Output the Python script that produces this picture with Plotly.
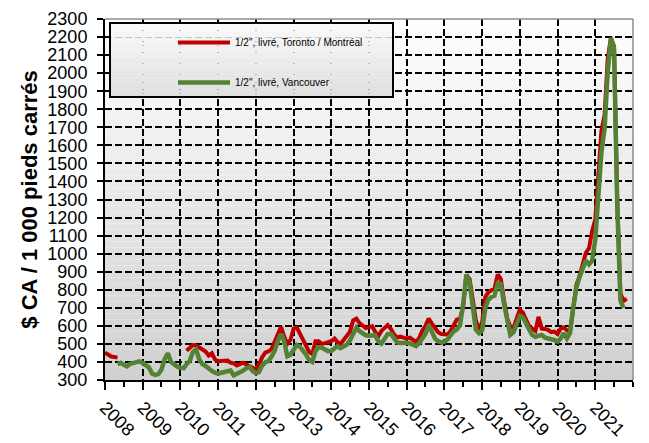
import plotly.graph_objects as go
import pandas as pd

# ---- data (monthly, $CA / 1 000 sq ft) ----
months = [d.strftime("%Y-%m-%d") for d in pd.date_range("2008-01-01", "2021-12-01", freq="MS")]

toronto_montreal = [
    452, 440, 430, 427, 424, None, None, None, None, None, None, None,            # 2008
    None, None, None, None, None, None, None, None, None, None, None, None,       # 2009
    None, None, 462, 478, 494, 492, 482, 468, 458, 436, 448, 414,                 # 2010
    403, 406, 408, 408, 396, 392, 380, 390, 396, 386, 378, 368,                   # 2011
    358, 386, 425, 452, 458, 472, 515, 545, 595, 540, 500, 522,                   # 2012
    585, 590, 560, 515, 485, 455, 445, 515, 515, 500, 504, 508,                   # 2013
    515, 530, 510, 500, 522, 540, 568, 630, 640, 615, 600, 588,                   # 2014
    592, 598, 568, 542, 572, 592, 604, 583, 552, 536, 540, 535,                   # 2015
    530, 534, 525, 511, 532, 575, 600, 640, 612, 585, 565, 555,                   # 2016
    552, 552, 572, 605, 635, 640, 705, 880, 860, 750, 630, 580,                   # 2017
    620, 760, 785, 798, 807, 885, 860, 740, 640, 595, 590, 640,                   # 2018
    690, 672, 635, 598, 585, 572, 650, 585, 583, 578, 565, 568,                   # 2019
    555, 585, 592, 575, 568, 720, 825, 875, 945, 1005, 1030, 1125,                # 2020
    1190, 1420, 1680, 1770, 2080, 2195, 2150, 1300, 780, 738, 750, None,          # 2021
]

vancouver = [
    None, None, None, None, 388, 395, 385, 376, 390, 393, 398, 403,               # 2008
    395, 385, 370, 336, 328, 333, 358, 415, 448, 400, 384, 374,                   # 2009
    368, 366, 388, 405, 455, 470, 415, 388, 378, 362, 350, 340,                   # 2010
    335, 340, 343, 348, 352, 326, 334, 340, 352, 365, 372, 350,                   # 2011
    338, 345, 380, 398, 405, 430, 462, 515, 555, 515, 432, 440,                   # 2012
    470, 494, 486, 465, 440, 410, 400, 460, 482, 478, 466, 460,                   # 2013
    462, 475, 487, 476, 485, 496, 520, 555, 590, 570, 556, 548,                   # 2014
    545, 544, 548, 515, 502, 528, 555, 555, 530, 508, 505, 507,                   # 2015
    507, 503, 497, 488, 505, 535, 555, 605, 565, 530, 515, 508,                   # 2016
    512, 525, 548, 570, 580, 605, 720, 885, 840, 720, 580, 560,                   # 2017
    575, 700, 745, 760, 767, 835, 830, 720, 625, 550, 565, 610,                   # 2018
    655, 645, 610, 580, 550, 538, 545, 550, 535, 528, 526, 522,                   # 2019
    512, 530, 560, 530, 560, 700, 810, 870, 920, 962, 940, 960,                   # 2020
    1080, 1330, 1560, 1695, 2000, 2195, 2140, 1280, 740, 700, None, None,         # 2021
]

year_labels = [str(y) for y in range(2008, 2022)]
year_ticks = [f"{y}-01-01" for y in range(2008, 2022)]

series_names = ["1/2\", livré, Toronto / Montréal", "1/2\", livré, Vancouver"]
series_colors = ["#c00000", "#548235"]

FONT = "Arial, Liberation Sans, sans-serif"

fig = go.Figure()
fig.add_trace(go.Scatter(x=months, y=toronto_montreal, mode="lines", name=series_names[0],
                         line=dict(color=series_colors[0], width=4), legendgroup="a",
                         connectgaps=False))
fig.add_trace(go.Scatter(x=months, y=vancouver, mode="lines", name=series_names[1],
                         line=dict(color=series_colors[1], width=4.5), legendgroup="b",
                         connectgaps=False))

# plot-area gradient background
shapes = []
N = 60
for i in range(N):
    t = (i + 0.5) / N
    c = int(round(208 + (255 - 208) * t))
    shapes.append(dict(type="rect", xref="paper", yref="paper", x0=0, x1=1,
                       y0=i / N, y1=(i + 1) / N, fillcolor=f"rgb({c},{c},{c})",
                       line=dict(width=0), layer="below"))

# legend box with gradient
W, H = 649, 443
ml, mr, mt, mb = 105, 16, 19, 63
pw, ph = W - ml - mr, H - mt - mb
def px(x):
    return (x - ml) / pw
def py(y):
    return 1 - (y - mt) / ph

lx0, lx1, ly0, ly1 = px(110), px(393), py(97), py(23)
M = 20
for i in range(M):
    t = (i + 0.5) / M
    c = int(round(222 + (250 - 222) * t))
    shapes.append(dict(type="rect", xref="paper", yref="paper", x0=lx0, x1=lx1,
                       y0=ly0 + (ly1 - ly0) * i / M, y1=ly0 + (ly1 - ly0) * (i + 1) / M,
                       fillcolor=f"rgb({c},{c},{c})", line=dict(width=0), layer="above"))
shapes.append(dict(type="rect", xref="paper", yref="paper", x0=lx0, x1=lx1, y0=ly0, y1=ly1,
                   line=dict(color="black", width=2), layer="above"))
# top & right frame
shapes.append(dict(type="line", xref="paper", yref="paper", x0=0, x1=1, y0=1, y1=1,
                   line=dict(color="#8c8c8c", width=1.5), layer="above"))
shapes.append(dict(type="line", xref="paper", yref="paper", x0=1, x1=1, y0=0, y1=1,
                   line=dict(color="#8c8c8c", width=1.5), layer="above"))

fig.update_layout(
    width=W, height=H,
    margin=dict(l=ml, r=mr, t=mt, b=mb, autoexpand=False),
    paper_bgcolor="white", plot_bgcolor="white",
    font=dict(family=FONT, color="black"),
    shapes=shapes,
    showlegend=True,
    legend=dict(x=px(173), y=py(28), xanchor="left", yanchor="top",
                bgcolor="rgba(0,0,0,0)", borderwidth=0,
                font=dict(size=10, family=FONT, color="black"),
                tracegroupgap=21, itemwidth=52),
)

fig.update_yaxes(
    range=[300, 2300], tick0=300, dtick=100,
    showgrid=True, gridcolor="black", gridwidth=2, griddash="7px,3px",
    showline=True, linecolor="black", linewidth=2,
    ticks="outside", ticklen=6, tickwidth=1.5, tickcolor="black",
    tickfont=dict(size=18, family=FONT, color="black"),
    ticklabelstandoff=6,
    title=dict(text="<b>$ CA / 1 000 pieds carrés</b>", font=dict(size=22, family=FONT, color="black"),
               standoff=4),
    zeroline=False, automargin=False,
)
fig.update_xaxes(
    type="date", range=["2008-01-01", "2022-01-01"],
    tickmode="array", tickvals=year_ticks, ticktext=year_labels, tickangle=45,
    showgrid=True, gridcolor="black", gridwidth=2, griddash="7px,3px",
    showline=True, linecolor="black", linewidth=2,
    ticks="outside", ticklen=8, tickwidth=1.5, tickcolor="black",
    tickfont=dict(size=18, family=FONT, color="black"),
    minor=dict(dtick="M6", tick0="2008-01-01", ticks="outside", ticklen=5, tickwidth=1.5,
               tickcolor="black", showgrid=False),
    zeroline=False, automargin=False,
)

fig.write_html("out.html", config={"displayModeBar": False},
               post_script="document.body.style.margin='0';")
